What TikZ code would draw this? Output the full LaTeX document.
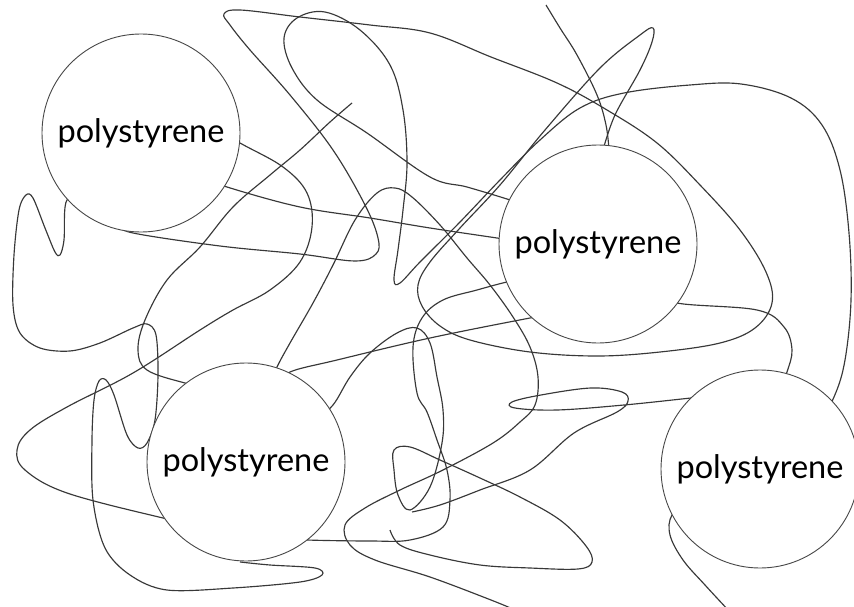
\documentclass[tikz,border=0pt]{standalone}
\usepackage{fontspec}
\setmainfont{Lato}
\begin{document}
\begin{tikzpicture}[x=1pt,y=-1pt,
  strand/.style={draw=black!78,line width=1.15pt,line join=round},
  ball/.style={circle,draw=black!72,fill=white,line width=0.9pt,
    minimum size=198pt,inner sep=0pt,font=\fontsize{32.5}{38}\selectfont}]
\useasboundingbox (0,0) rectangle (854,607);
\clip (0,0) rectangle (854,607);
\fill[white] (0,0) rectangle (854,607);

% long chain: bottom of A, hairpin at the top, around B, tall loop back into B
\draw[strand] plot[smooth,tension=0.6] coordinates {(120,225) (133,233) (220,246) (300,254) (355,261) (376,254) (378,238) (365,205) (333,150) (290,95) (250,50) (230,25) (224,14) (240,10) (300,17) (370,25) (430,33) (491,57) (557,83) (607,110) (657,143) (700,185) (740,230) (766,272) (772,303) (755,328) (720,343) (660,352) (597,356) (530,352) (470,340) (440,326) (422,306) (418,285) (430,262) (460,228) (500,185) (545,130) (600,68) (640,35) (653,28) (652,42) (640,70) (615,115) (603,150)};

% chain from B over the top loop, down to a hairpin, then the wide arc into D
\draw[strand] plot[smooth,tension=0.6] coordinates {(540,210) (507,199) (467,187) (430,177) (367,133) (317,100) (292,68) (284,38) (297,18) (325,12) (360,30) (390,65) (403,110) (407,163) (403,210) (398,250) (394,280) (400,283) (420,262) (460,222) (500,180) (540,140) (580,108) (624,93) (690,85) (741,84) (791,98) (822,125) (840,170) (849,233) (851,300) (845,360) (834,397) (815,430)};

% chain from A to C on the left
\draw[strand] plot[smooth,tension=0.6] coordinates {(200,120) (240,143) (283,167) (307,193) (312,227) (300,262) (270,290) (233,310) (200,330) (133,373) (67,407) (30,430) (17,450) (25,470) (67,493) (163,518) (200,525)};

% chain with a free end, down to C
\draw[strand] plot[smooth,tension=0.6] coordinates {(352,103) (330,122) (300,150) (270,175) (233,207) (200,247) (167,280) (145,320) (138,350) (147,370) (185,383) (220,390)};

% wiggly chain from A down the left side and under C
\draw[strand] plot[smooth,tension=0.55] coordinates {(90,205) (67,200) (64,240) (60,255) (55,252) (45,228) (33,198) (26,195) (19,210) (14,255) (13,305) (20,333) (40,348) (70,351) (100,343) (133,328) (147,324) (156,335) (158,375) (155,420) (147,443) (138,448) (127,435) (114,395) (106,380) (99,381) (94,400) (92,440) (93,500) (105,548) (130,575) (167,590) (233,588) (300,582) (322,575) (315,568) (270,565) (240,562)};

% chain from A straight across to B
\draw[strand] plot[smooth,tension=0.6] coordinates {(180,170) (227,187) (300,207) (370,218) (430,228) (497,238) (530,243)};

% chain from C up over a bump, down past B and out at the bottom
\draw[strand] plot[smooth,tension=0.6] coordinates {(270,385) (277,367) (290,343) (313,303) (333,265) (355,220) (377,193) (395,188) (412,197) (440,225) (467,258) (490,285) (513,317) (530,347) (538,377) (535,405) (520,422) (493,443) (443,470) (400,490) (365,508) (345,525) (350,545) (375,560) (430,577) (491,600) (515,610)};

% chain between C and B
\draw[strand] plot[smooth,tension=0.6] coordinates {(280,385) (290,372) (337,360) (430,338) (530,318) (550,315)};

% short chain from D to the bottom edge
\draw[strand] plot[smooth,tension=0.6] coordinates {(690,500) (672,515) (670,535) (683,560) (705,585) (730,612)};

% chain between B and D
\draw[strand] plot[smooth,tension=0.6] coordinates {(660,290) (677,303) (757,310) (784,327) (792,350) (787,372) (780,390)};

% chain from B down and back into C
\draw[strand] plot[smooth,tension=0.6] coordinates {(530,278) (507,282) (477,290) (443,300) (422,318) (413,347) (417,393) (427,412) (437,440) (447,470) (450,500) (443,527) (410,540) (370,541) (307,540) (290,538)};

% chain from C with a teardrop and a pointed loop
\draw[strand] plot[smooth,tension=0.6] coordinates {(315,420) (333,405) (350,377) (370,353) (397,333) (417,328) (430,343) (437,377) (443,410) (442,443) (430,487) (410,510) (398,495) (394,470) (394,450) (410,447) (440,460) (480,478) (520,497) (560,520) (586,546) (592,562) (578,569) (530,568) (480,565) (430,555) (400,545) (390,530)};

% flat loop from D
\draw[strand] plot[smooth,tension=0.6] coordinates {(720,395) (691,398) (624,405) (557,410) (515,408) (512,402) (541,395) (591,388) (622,392) (628,401) (617,412) (574,433) (530,470) (480,490) (440,505) (412,512)};

% chain entering B from the top edge
\draw[strand] plot[smooth,tension=0.6] coordinates {(546,5) (560,28) (577,55) (597,95) (606,125) (609,150)};

% polystyrene beads
\node[ball] (beadA) at (141,133) {polystyrene};
\node[ball] (beadB) at (598,244) {polystyrene};
\node[ball] (beadC) at (246,462) {polystyrene};
\node[ball] (beadD) at (760,469) {polystyrene};
\end{tikzpicture}
\end{document}
